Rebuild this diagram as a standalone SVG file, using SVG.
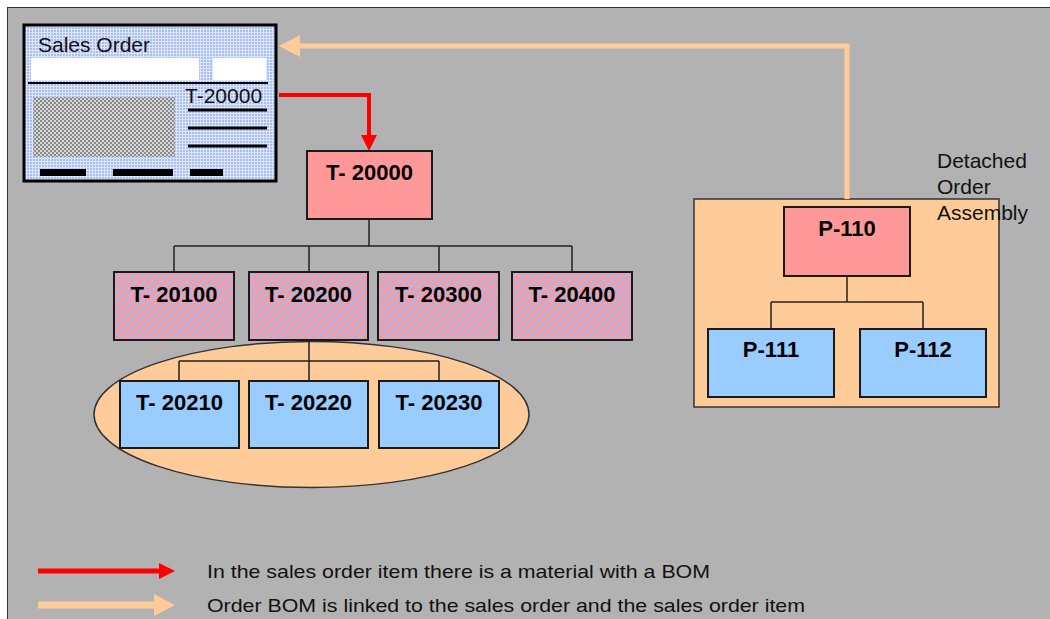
<svg xmlns="http://www.w3.org/2000/svg" width="1050" height="619" viewBox="0 0 1050 619">
<defs>
<style>
.bg{fill:#b2b2b2;stroke:#333;stroke-width:1}
.box{stroke:#1a1a1a;stroke-width:2}
.pink{fill:#ff9999}
.blue{fill:#99ccff}
.hatch{fill:url(#hatch)}
.lbl{font-family:"Liberation Sans",Arial,sans-serif;font-weight:bold;font-size:22px;fill:#000;text-anchor:middle}
.txt{font-family:"Liberation Sans",Arial,sans-serif;font-size:21px;fill:#111}
.leg{font-family:"Liberation Sans",Arial,sans-serif;font-size:19px;fill:#111}
.tree{fill:none;stroke:#222;stroke-width:1.5}
.peach{fill:#ffcc99;stroke:#333;stroke-width:1.5}
</style>
<pattern id="hatch" width="6" height="6" patternUnits="userSpaceOnUse" patternTransform="rotate(45)">
<rect width="6" height="6" fill="#ff9999"/>
<rect width="2.5" height="6" fill="#a8b8f0"/>
</pattern>
<pattern id="dots" width="3" height="3" patternUnits="userSpaceOnUse">
<rect width="3" height="3" fill="#dde5fb"/>
<rect width="2" height="2" fill="#a9bdf0"/>
</pattern>
<pattern id="checker" width="4" height="4" patternUnits="userSpaceOnUse">
<rect width="4" height="4" fill="#d6d6d6"/>
<rect width="2" height="2" fill="#8a8a8a"/>
<rect x="2" y="2" width="2" height="2" fill="#8a8a8a"/>
</pattern>
<marker id="redHead" markerUnits="userSpaceOnUse" viewBox="0 0 16 16" refX="0" refY="8" markerWidth="16" markerHeight="16" orient="auto">
<path d="M0,0 L16,8 L0,16 z" fill="#ff0000"/>
</marker>
<marker id="orangeHead" markerUnits="userSpaceOnUse" viewBox="0 0 21 22" refX="0" refY="11" markerWidth="21" markerHeight="22" orient="auto">
<path d="M0,0 L21,11 L0,22 z" fill="#ffcc99"/>
</marker>
</defs>

<rect class="bg" x="7.5" y="7.5" width="1050" height="620"/>

<g id="detached-order-assembly">
<rect class="peach" x="694" y="199" width="305" height="208" stroke-width="1"/>
<text class="txt" x="937" y="168">Detached</text>
<text class="txt" x="937" y="194">Order</text>
<text class="txt" x="937" y="220">Assembly</text>
</g>

<g id="order-bom-ellipse">
<ellipse cx="311.5" cy="414.5" rx="217.5" ry="73" class="peach"/>
</g>

<g id="connectors">
<path d="M279,95 H369 V135" fill="none" stroke="#ff0000" stroke-width="4" marker-end="url(#redHead)"/>
<path d="M847,199 V46 H300" fill="none" stroke="#ffcc99" stroke-width="5" marker-end="url(#orangeHead)"/>
<path class="tree" d="M369,219 V246" stroke-width="2"/>
<path class="tree" d="M174,246 H572 M174,246 V272 M309,246 V272 M439,246 V272 M572,246 V272"/>
<path class="tree" d="M309,340 V381 M179,361 H439 M179,361 V381 M439,361 V381"/>
<path class="tree" d="M847,276 V302" stroke-width="2"/>
<path class="tree" d="M771,302 H923 M771,302 V329 M923,302 V329"/>
</g>

<g id="sales-order">
<rect x="24" y="25" width="252" height="156" fill="url(#dots)" stroke="#000" stroke-width="3"/>
<text class="txt" x="38" y="52" font-size="22">Sales Order</text>
<rect x="31" y="58" width="168" height="22" fill="#fff"/>
<rect x="213" y="58" width="53" height="22" fill="#fff"/>
<line x1="28" y1="83" x2="268" y2="83" stroke="#000" stroke-width="2"/>
<text class="txt" x="185" y="103" font-size="22">T-20000</text>
<rect x="33" y="97" width="142" height="60" fill="url(#checker)"/>
<path d="M188,110 H267 M188,128 H267 M188,146 H267" stroke="#000" stroke-width="3"/>
<rect x="40" y="169" width="46" height="7" fill="#000"/>
<rect x="113" y="169" width="60" height="7" fill="#000"/>
<rect x="190" y="169" width="33" height="7" fill="#000"/>
</g>

<g id="T-20000">
<rect class="box pink" x="307" y="151" width="125" height="68"/>
<text class="lbl" x="369.5" y="180">T- 20000</text>
</g>
<g id="T-20100">
<rect class="box hatch" x="114" y="272" width="120" height="68"/>
<text class="lbl" x="174" y="302">T- 20100</text>
</g>
<g id="T-20200">
<rect class="box hatch" x="249" y="272" width="119" height="68"/>
<text class="lbl" x="308.5" y="302">T- 20200</text>
</g>
<g id="T-20300">
<rect class="box hatch" x="378" y="272" width="121" height="68"/>
<text class="lbl" x="438.5" y="302">T- 20300</text>
</g>
<g id="T-20400">
<rect class="box hatch" x="512" y="272" width="120" height="68"/>
<text class="lbl" x="572" y="302">T- 20400</text>
</g>
<g id="T-20210">
<rect class="box blue" x="120" y="381" width="119" height="67"/>
<text class="lbl" x="179.5" y="410">T- 20210</text>
</g>
<g id="T-20220">
<rect class="box blue" x="249" y="381" width="119" height="67"/>
<text class="lbl" x="308.5" y="410">T- 20220</text>
</g>
<g id="T-20230">
<rect class="box blue" x="379" y="381" width="120" height="67"/>
<text class="lbl" x="439" y="410">T- 20230</text>
</g>
<g id="P-110">
<rect class="box pink" x="784" y="207" width="126" height="69"/>
<text class="lbl" x="847" y="236">P-110</text>
</g>
<g id="P-111">
<rect class="box blue" x="708" y="329" width="126" height="68"/>
<text class="lbl" x="771" y="357">P-111</text>
</g>
<g id="P-112">
<rect class="box blue" x="860" y="329" width="126" height="68"/>
<text class="lbl" x="923" y="357">P-112</text>
</g>

<g id="legend">
<line x1="38" y1="571" x2="159" y2="571" stroke="#ff0000" stroke-width="5" marker-end="url(#redHead)"/>
<text class="leg" x="207" y="578" textLength="503" lengthAdjust="spacingAndGlyphs">In the sales order item there is a material with a BOM</text>
<line x1="38" y1="605" x2="154" y2="605" stroke="#ffcc99" stroke-width="7" marker-end="url(#orangeHead)"/>
<text class="leg" x="207" y="612" textLength="598" lengthAdjust="spacingAndGlyphs">Order BOM is linked to the sales order and the sales order item</text>
</g>
</svg>
